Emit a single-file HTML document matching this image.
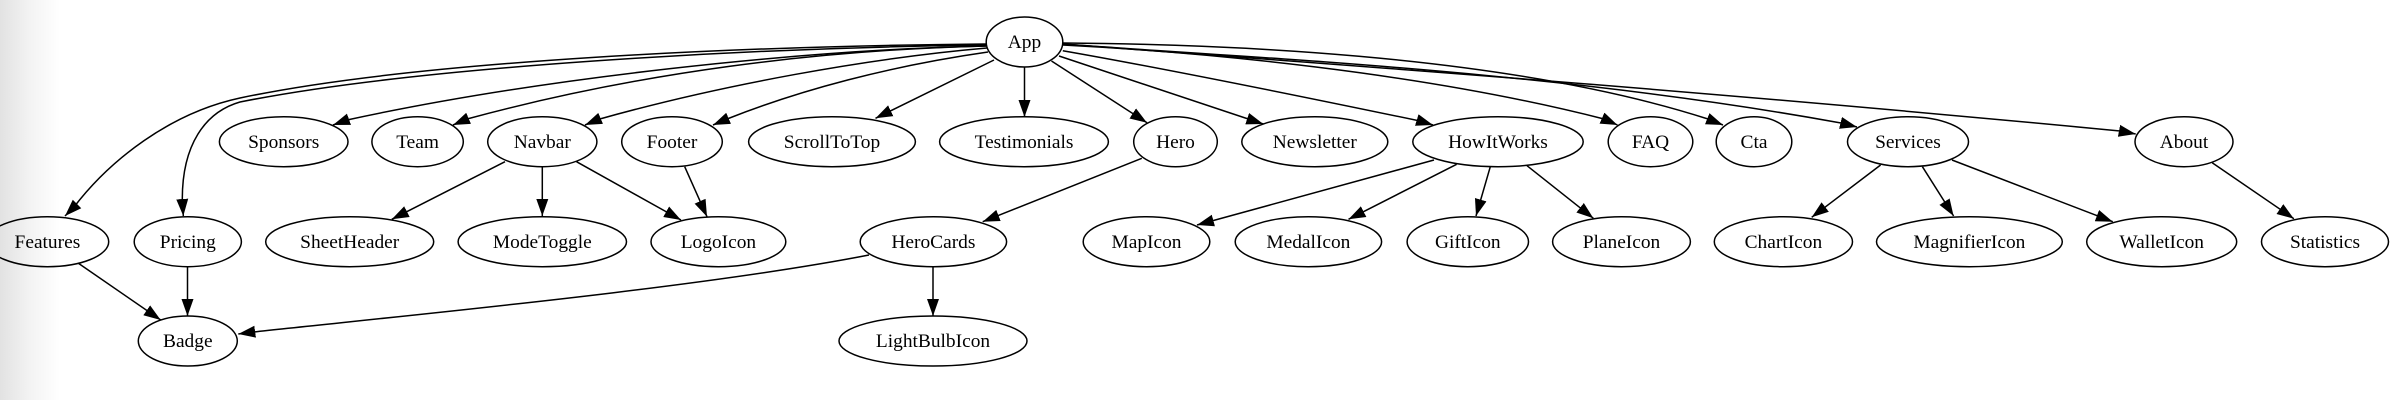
<!DOCTYPE html>
<html><head><meta charset="utf-8"><title>Component graph</title>
<style>html,body{margin:0;padding:0;background:#fff}svg{display:block;filter:blur(.35px)}
text{font-family:"Liberation Serif","Times New Roman",serif;font-size:19.4px;text-anchor:middle;fill:#000}
ellipse{fill:none;stroke:#000;stroke-width:1.5}
path.e{fill:none;stroke:#000;stroke-width:1.5}</style></head><body>
<svg width="2400" height="400" viewBox="0 0 2400 400" xmlns="http://www.w3.org/2000/svg">
<defs>
<linearGradient id="g" x1="0" x2="1" y1="0" y2="0"><stop offset="0" stop-color="#e2e2e2"/><stop offset="0.5" stop-color="#f3f3f3"/><stop offset="1" stop-color="#fff"/></linearGradient>
<marker id="a" markerUnits="userSpaceOnUse" markerWidth="18" markerHeight="14" refX="17" refY="6.5" orient="auto"><path d="M0,0.5 L17,6.5 L0,12.5 Z" fill="#000"/></marker>
</defs>
<rect width="2400" height="400" fill="#fff"/>
<rect width="60" height="400" fill="url(#g)"/>
<path class="e" marker-end="url(#a)" d="M986,44 C 750,46 420,60 240,98 C 170,113 110,160 74,207 L65,216"/>
<path class="e" marker-end="url(#a)" d="M986,45 C 750,48 420,66 240,102 C 205,112 182,145 182.3,200 L183.3,216"/>
<path class="e" marker-end="url(#a)" d="M986,46 C 800,50 540,78 347,120 L333,125"/>
<path class="e" marker-end="url(#a)" d="M986,46 C 820,50 640,72 467,119 L453,125"/>
<path class="e" marker-end="url(#a)" d="M987,48 C 870,58 720,85 598,119.5 L585,125"/>
<path class="e" marker-end="url(#a)" d="M988,52 C 890,66 800,90 727,119 L713,125"/>
<path class="e" marker-end="url(#a)" d="M994,60 L875.5,118.3"/>
<path class="e" marker-end="url(#a)" d="M1024.5,67 L1024.5,117"/>
<path class="e" marker-end="url(#a)" d="M1051.5,61 L1147,122.7"/>
<path class="e" marker-end="url(#a)" d="M1059,56 L1263.3,124"/>
<path class="e" marker-end="url(#a)" d="M1062.8,50.7 C 1150,66 1300,96 1420,121 L1433,125"/>
<path class="e" marker-end="url(#a)" d="M1063,45 C 1200,52 1420,72 1604,119 L1617.5,125"/>
<path class="e" marker-end="url(#a)" d="M1063,43 C 1200,44 1500,52 1708,119 L1723,125"/>
<path class="e" marker-end="url(#a)" d="M1063,44 C 1250,58 1550,70 1841,123 L1857,127"/>
<path class="e" marker-end="url(#a)" d="M1063,44 C 1300,62 1650,86 2120,131 L2135.7,134"/>
<path class="e" marker-end="url(#a)" d="M78,263 L160.7,320"/>
<path class="e" marker-end="url(#a)" d="M187.5,267 L187.5,316"/>
<path class="e" marker-end="url(#a)" d="M505,161.7 L391.8,219.3"/>
<path class="e" marker-end="url(#a)" d="M542.3,166.7 L542.3,216"/>
<path class="e" marker-end="url(#a)" d="M576.5,161.7 L681,220"/>
<path class="e" marker-end="url(#a)" d="M684.7,166.7 L707,216.7"/>
<path class="e" marker-end="url(#a)" d="M1141.8,158.3 L982.7,221.7"/>
<path class="e" marker-end="url(#a)" d="M869,255 C 700,288 400,316 253,332 L238.3,334"/>
<path class="e" marker-end="url(#a)" d="M933,267 L933,316"/>
<path class="e" marker-end="url(#a)" d="M1434,160 L1197,225"/>
<path class="e" marker-end="url(#a)" d="M1456.6,164.3 L1348.5,219.3"/>
<path class="e" marker-end="url(#a)" d="M1490.3,166.7 L1476,216"/>
<path class="e" marker-end="url(#a)" d="M1527,165.7 L1593.4,218.3"/>
<path class="e" marker-end="url(#a)" d="M1880.6,165 L1811.7,217.3"/>
<path class="e" marker-end="url(#a)" d="M1922.4,166.7 L1953.6,216"/>
<path class="e" marker-end="url(#a)" d="M1952,160 L2112.8,221.7"/>
<path class="e" marker-end="url(#a)" d="M2212.2,162.7 L2293.9,218.7"/>
<ellipse cx="1024.5" cy="42" rx="38.3" ry="25"/><text x="1024.5" y="48">App</text>
<ellipse cx="283.7" cy="141.7" rx="64.3" ry="25"/><text x="283.7" y="148">Sponsors</text>
<ellipse cx="417.6" cy="141.7" rx="45.7" ry="25"/><text x="417.6" y="148">Team</text>
<ellipse cx="542.3" cy="141.7" rx="54.6" ry="25"/><text x="542.3" y="148">Navbar</text>
<ellipse cx="672" cy="141.7" rx="50.3" ry="25"/><text x="672" y="148">Footer</text>
<ellipse cx="832" cy="141.7" rx="83.4" ry="25"/><text x="832" y="148">ScrollToTop</text>
<ellipse cx="1024" cy="141.7" rx="84.4" ry="25"/><text x="1024" y="148">Testimonials</text>
<ellipse cx="1175.5" cy="141.7" rx="41.8" ry="25"/><text x="1175.5" y="148">Hero</text>
<ellipse cx="1314.8" cy="141.7" rx="73" ry="25"/><text x="1314.8" y="148">Newsletter</text>
<ellipse cx="1498" cy="141.7" rx="85.2" ry="25"/><text x="1498" y="148">HowItWorks</text>
<ellipse cx="1650.5" cy="141.7" rx="42.3" ry="25"/><text x="1650.5" y="148">FAQ</text>
<ellipse cx="1754" cy="141.7" rx="37.8" ry="25"/><text x="1754" y="148">Cta</text>
<ellipse cx="1908" cy="141.7" rx="60.5" ry="25"/><text x="1908" y="148">Services</text>
<ellipse cx="2184" cy="141.7" rx="49" ry="25"/><text x="2184" y="148">About</text>
<ellipse cx="47.4" cy="241.7" rx="61.3" ry="25"/><text x="47.4" y="248">Features</text>
<ellipse cx="187.8" cy="241.7" rx="53.6" ry="25"/><text x="187.8" y="248">Pricing</text>
<ellipse cx="349.7" cy="241.7" rx="84" ry="25"/><text x="349.7" y="248">SheetHeader</text>
<ellipse cx="542.3" cy="241.7" rx="84.2" ry="25"/><text x="542.3" y="248">ModeToggle</text>
<ellipse cx="718.4" cy="241.7" rx="67.4" ry="25"/><text x="718.4" y="248">LogoIcon</text>
<ellipse cx="933.4" cy="241.7" rx="73.2" ry="25"/><text x="933.4" y="248">HeroCards</text>
<ellipse cx="1146.5" cy="241.7" rx="63.3" ry="25"/><text x="1146.5" y="248">MapIcon</text>
<ellipse cx="1308.4" cy="241.7" rx="73.2" ry="25"/><text x="1308.4" y="248">MedalIcon</text>
<ellipse cx="1467.8" cy="241.7" rx="60.7" ry="25"/><text x="1467.8" y="248">GiftIcon</text>
<ellipse cx="1621.5" cy="241.7" rx="68.9" ry="25"/><text x="1621.5" y="248">PlaneIcon</text>
<ellipse cx="1783.4" cy="241.7" rx="69.1" ry="25"/><text x="1783.4" y="248">ChartIcon</text>
<ellipse cx="1969.4" cy="241.7" rx="92.9" ry="25"/><text x="1969.4" y="248">MagnifierIcon</text>
<ellipse cx="2161.7" cy="241.7" rx="75" ry="25"/><text x="2161.7" y="248">WalletIcon</text>
<ellipse cx="2325" cy="241.7" rx="63.5" ry="25"/><text x="2325" y="248">Statistics</text>
<ellipse cx="187.8" cy="341" rx="49.5" ry="25"/><text x="187.8" y="347">Badge</text>
<ellipse cx="933" cy="341" rx="94" ry="25"/><text x="933" y="347">LightBulbIcon</text>
</svg>
</body></html>
